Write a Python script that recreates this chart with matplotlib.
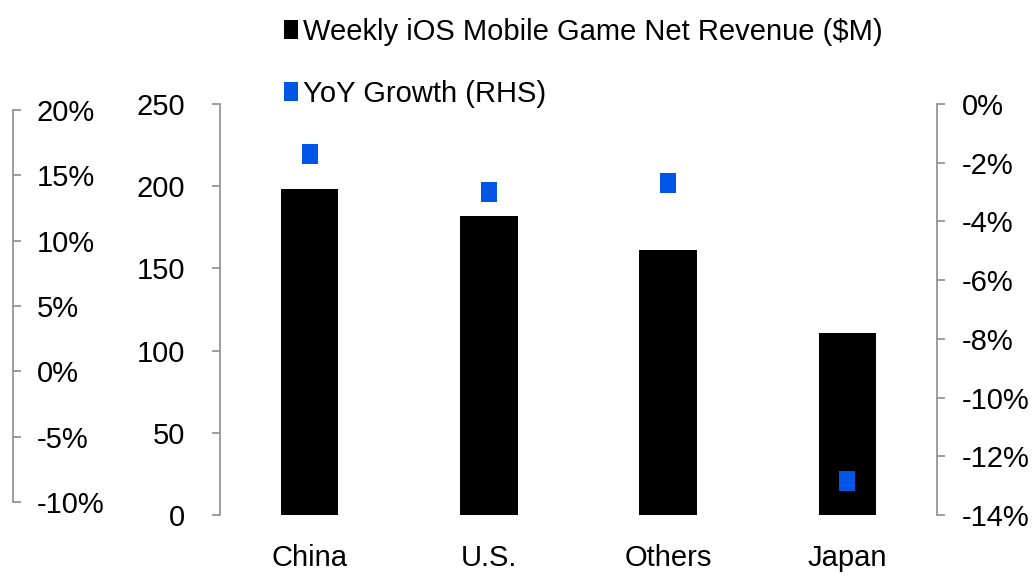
import matplotlib
matplotlib.use('Agg')
import matplotlib.pyplot as plt
from matplotlib.patches import Patch
import numpy as np

# ---- data ----
categories = ['China', 'U.S.', 'Others', 'Japan']
revenue = [198, 182, 161, 111]          # Weekly iOS Mobile Game Net Revenue ($M)
yoy_growth = [-1.7, -3.0, -2.7, -12.85]  # YoY Growth (%), RHS
left_ticks = [0, 50, 100, 150, 200, 250]
right_ticks = [-14, -12, -10, -8, -6, -4, -2, 0]
far_left_ticks = [-10, -5, 0, 5, 10, 15, 20]
legend_labels = ['Weekly iOS Mobile Game Net Revenue ($M)', 'YoY Growth (RHS)']

# ---- style ----
plt.rcParams['font.family'] = ['Liberation Sans', 'DejaVu Sans']
FS = 21
SPINE = '#8c8c8c'
BLUE = '#0057e7'
W, H = 1034, 580

fig = plt.figure(figsize=(W / 100, H / 100), dpi=100)

ax = fig.add_axes([220 / W, (H - 515) / H, (937 - 220) / W, (515 - 104) / H])
x = np.arange(len(categories))
ax.bar(x, revenue, width=0.32, color='black', zorder=2)
ax.set_xlim(-0.5, 3.5)
ax.set_ylim(0, 250)
ax.set_yticks(left_ticks)
ax.set_yticklabels([str(v) for v in left_ticks])
ax.set_xticks(x)
ax.set_xticklabels(categories)
for s in ['top', 'bottom', 'right']:
    ax.spines[s].set_visible(False)
ax.spines['left'].set_color(SPINE)
ax.spines['left'].set_linewidth(1.2)
ax.tick_params(axis='y', length=6, width=1.2, color=SPINE, pad=19, labelsize=FS)
ax.tick_params(axis='x', length=0, pad=21, labelsize=FS)

rect_marker = [(-0.37, -0.5), (0.37, -0.5), (0.37, 0.5), (-0.37, 0.5), (-0.37, -0.5)]
ax2 = ax.twinx()
ax2.plot(x, yoy_growth, linestyle='none', marker=rect_marker, markersize=15,
         color=BLUE, markeredgewidth=0, zorder=3)
ax2.set_ylim(-14, 0)
ax2.set_yticks(right_ticks)
ax2.set_yticklabels([f'{v}%' for v in right_ticks])
for s in ['top', 'bottom', 'left']:
    ax2.spines[s].set_visible(False)
ax2.spines['right'].set_color(SPINE)
ax2.spines['right'].set_linewidth(1.2)
ax2.tick_params(axis='y', length=6, width=1.2, color=SPINE, pad=12, labelsize=FS)

# far-left auxiliary percentage axis
ax3 = fig.add_axes([13 / W, (H - 502) / H, 0.0001, (502 - 110) / H])
ax3.patch.set_visible(False)
for s in ['top', 'bottom', 'left']:
    ax3.spines[s].set_visible(False)
ax3.spines['right'].set_color(SPINE)
ax3.spines['right'].set_linewidth(1.2)
ax3.set_ylim(-10, 20)
ax3.yaxis.tick_right()
ax3.set_yticks(far_left_ticks)
ax3.set_yticklabels([f'{v}%' for v in far_left_ticks])
ax3.set_xticks([])
ax3.tick_params(axis='y', length=6, width=1.2, color=SPINE, pad=11, labelsize=FS)

handles = [Patch(facecolor='black', edgecolor='none'),
           Patch(facecolor=BLUE, edgecolor='none')]
fig.legend(handles, legend_labels, loc='upper left',
           bbox_to_anchor=(284 / W, 1 - 18 / H), frameon=False, fontsize=FS,
           handlelength=0.48, handleheight=0.62, handletextpad=0.18,
           labelspacing=1.15, borderpad=0, borderaxespad=0)

fig.savefig('out.png', dpi=100)
